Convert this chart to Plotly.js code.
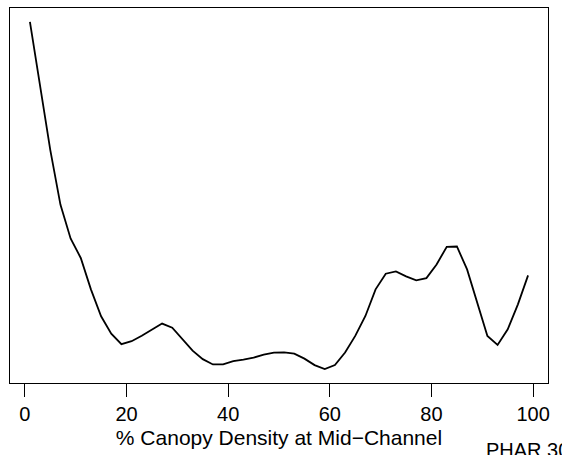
<!DOCTYPE html>
<html>
<head>
<meta charset="utf-8">
<script src="https://cdn.plot.ly/plotly-3.0.1.min.js"></script>
<style>
  html, body { margin: 0; padding: 0; background: #fff; }
  #chart { width: 562px; height: 455px; }
</style>
</head>
<body>
<div id="chart"></div>
<script>
// % canopy density (x) and estimated density curve values (y, arbitrary units)
const canopy = [1,3,5,7,9,11,13,15,17,19,21,23,25,27,29,31,33,35,37,39,41,43,45,47,49,
                51,53,55,57,59,61,63,65,67,69,71,73,75,77,79,81,83,85,87,89,91,93,95,97,99];
const density = [0.03616,0.02953,0.02333,0.01783,0.01443,0.01248,0.00933,0.00663,0.00488,0.00383,
                 0.00413,0.00468,0.00533,0.00590,0.00548,0.00433,0.00318,0.00233,0.00180,0.00180,
                 0.00213,0.00228,0.00248,0.00278,0.00298,0.00300,0.00288,0.00238,0.00173,0.00133,
                 0.00173,0.00300,0.00466,0.00666,0.00933,0.01090,0.01113,0.01063,0.01023,0.01046,
                 0.01183,0.01360,0.01363,0.01133,0.00800,0.00466,0.00376,0.00533,0.00783,0.01073];
const xTicks = [0, 20, 40, 60, 80, 100];
const xTitle = "% Canopy Density at Mid\u2212Channel";
const footnote = "PHAR 30";

const xmin = Math.min(...canopy), xmax = Math.max(...canopy);
const ymin = Math.min(...density), ymax = Math.max(...density);
const xpad = 0.04 * (xmax - xmin), ypad = 0.04 * (ymax - ymin);

const font = "Liberation Sans, Arial, Helvetica, sans-serif";

const trace = {
  x: canopy, y: density, type: "scatter", mode: "lines",
  line: { color: "#000", width: 1.8 },
  hoverinfo: "skip"
};

const layout = {
  width: 562, height: 455,
  margin: { l: 9.5, r: 13.5, t: 7.5, b: 71.7, pad: 0 },
  paper_bgcolor: "#fff", plot_bgcolor: "#fff",
  showlegend: false,
  font: { family: font, size: 20, color: "#000" },
  xaxis: {
    range: [xmin - xpad, xmax + xpad],
    tickvals: xTicks, ticktext: xTicks.map(String),
    ticks: "outside", ticklen: 13, tickwidth: 1.3, tickcolor: "#000",
    tickfont: { family: font, size: 20, color: "#000" },
    showgrid: false, zeroline: false,
    showline: true, linecolor: "#000", linewidth: 1.3, mirror: true,
    title: { text: xTitle, font: { family: font, size: 21, color: "#000" }, standoff: 6 },
    automargin: false
  },
  yaxis: {
    range: [ymin - ypad, ymax + ypad],
    showticklabels: false, ticks: "",
    showgrid: false, zeroline: false,
    showline: true, linecolor: "#000", linewidth: 1.3, mirror: true,
    automargin: false
  },
  annotations: [{
    text: footnote, xref: "paper", yref: "paper",
    x: (484 - 9.5) / 539, y: (383.3 - 450.5) / 375.8,
    xanchor: "left", yanchor: "middle", showarrow: false,
    font: { family: font, size: 20, color: "#000" }
  }]
};

Plotly.newPlot("chart", [trace], layout, { staticPlot: true, displayModeBar: false });
</script>
</body>
</html>
